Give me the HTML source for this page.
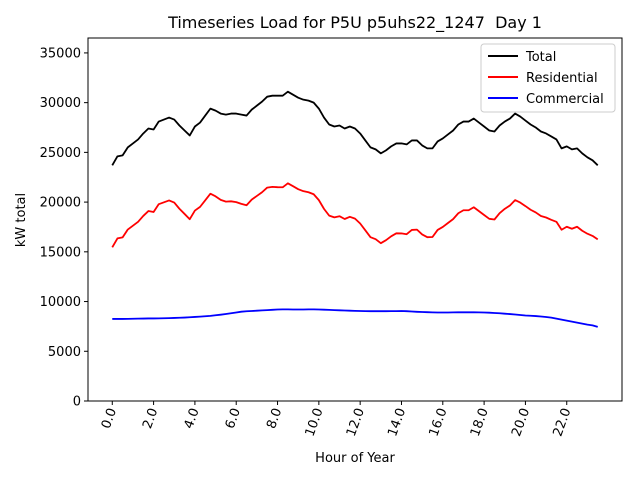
<!DOCTYPE html>
<html><head><meta charset="utf-8"><style>
body{margin:0;background:#fff}
svg{font-family:"DejaVu Sans","Liberation Sans",sans-serif}
</style></head><body>
<svg id="chart" width="640" height="480" viewBox="0 0 640 480">
<rect width="640" height="480" fill="#fff"/>
<text x="355" y="28" text-anchor="middle" font-size="16">Timeseries Load for P5U p5uhs22_1247&#160; Day 1</text>
<g id="grid"></g>
<g id="series"></g>
<rect x="88" y="38" width="534" height="363" fill="none" stroke="#000" stroke-width="1"/>
<text x="355" y="462" text-anchor="middle" font-size="13">Hour of Year</text>
<text transform="translate(25,220) rotate(-90)" text-anchor="middle" font-size="13">kW total</text>
<g>
<rect x="481" y="44" width="134" height="68" rx="3" fill="#fff" fill-opacity="0.8" stroke="#ccc"/>
<line x1="488" y1="56" x2="518" y2="56" stroke="#000" stroke-width="2"/><text x="526" y="61" font-size="13">Total</text>
<line x1="488" y1="77" x2="518" y2="77" stroke="red" stroke-width="2"/><text x="526" y="82" font-size="13">Residential</text>
<line x1="488" y1="98" x2="518" y2="98" stroke="blue" stroke-width="2"/><text x="526" y="103" font-size="13">Commercial</text>
</g>
</svg>
<script>
const yTicks=[0,5000,10000,15000,20000,25000,30000,35000];
const xTicks=[0,2,4,6,8,10,12,14,16,18,20,22];
const total=[23700,24600,24700,25500,25900,26300,26900,27400,27300,28100,28300,28500,28300,27700,27200,26700,27600,28000,28700,29400,29200,28900,28800,28900,28900,28800,28700,29300,29700,30100,30600,30700,30700,30700,31100,30800,30500,30300,30200,30000,29400,28500,27800,27600,27700,27400,27600,27400,26900,26200,25500,25300,24900,25200,25600,25900,25900,25800,26200,26200,25700,25400,25400,26100,26400,26800,27200,27800,28100,28100,28400,28000,27600,27200,27100,27700,28100,28400,28900,28600,28200,27800,27500,27100,26900,26600,26300,25400,25600,25300,25400,24900,24500,24200,23700];
const residential=[15450,16350,16450,17240,17630,18020,18610,19100,19000,19790,19980,20170,19950,19330,18810,18280,19150,19520,20180,20840,20580,20220,20050,20080,20000,19820,19680,20250,20620,20990,21460,21530,21500,21490,21890,21600,21300,21100,20990,20790,20200,19320,18640,18460,18580,18300,18520,18340,17850,17160,16470,16270,15870,16170,16560,16860,16850,16770,17200,17230,16750,16470,16490,17200,17500,17900,18290,18880,19180,19180,19480,19090,18700,18320,18250,18880,19320,19660,20200,19950,19600,19230,18960,18600,18450,18220,18020,17220,17520,17320,17520,17120,16820,16600,16250];
const commercial=[8250,8250,8250,8260,8270,8280,8290,8300,8300,8310,8320,8330,8350,8370,8390,8420,8450,8480,8520,8560,8620,8680,8750,8820,8900,8980,9020,9050,9080,9110,9140,9170,9200,9210,9210,9200,9200,9200,9210,9210,9200,9180,9160,9140,9120,9100,9080,9060,9050,9040,9030,9030,9030,9030,9040,9040,9050,9030,9000,8970,8950,8930,8910,8900,8900,8900,8910,8920,8920,8920,8920,8910,8900,8880,8850,8820,8780,8740,8700,8650,8600,8570,8540,8500,8450,8380,8280,8180,8080,7980,7880,7780,7680,7600,7450];
const NS='http://www.w3.org/2000/svg';
const L=88,R=622,T=38,B=401,yMax=36500;
const n=total.length,xMax=(n-1)*0.25,pad=xMax*0.05;
const xs=h=>L+(h+pad)/(xMax+2*pad)*(R-L);
const ys=v=>B-v/yMax*(B-T);
const g=document.getElementById('grid'),s=document.getElementById('series');
function mk(tag,at,p){const e=document.createElementNS(NS,tag);for(const k in at)e.setAttribute(k,at[k]);p.appendChild(e);return e;}
yTicks.forEach(v=>{
  const y=ys(v);
  const t=mk('line',{x1:L-4,x2:L,y1:y,y2:y,stroke:'#000'},g);
  
  
  const tx=mk('text',{x:L-7,y:y+4.5,'text-anchor':'end','font-size':13},g);
  tx.textContent=v;
  
  
});
xTicks.forEach(h=>{
  const x=xs(h);
  const t=mk('line',{x1:x,x2:x,y1:B,y2:B+4,stroke:'#000'},g);
  
  
  const tx=mk('text',{transform:`translate(${x+4},${B+9}) rotate(-70)`,'text-anchor':'end','font-size':13},g);
  tx.textContent=h.toFixed(1);
  
  
});
[[total,'#000','total-line'],[residential,'red','residential-line'],[commercial,'blue','commercial-line']].forEach(([arr,c,name])=>{
  const d=arr.map((v,i)=>(i?'L':'M')+xs(i*0.25).toFixed(2)+','+ys(v).toFixed(2)).join('');
  const p=mk('path',{d:d,fill:'none',stroke:c,'stroke-width':1.8,'stroke-linejoin':'round'},s);
  
  
});
</script>
</body></html>
